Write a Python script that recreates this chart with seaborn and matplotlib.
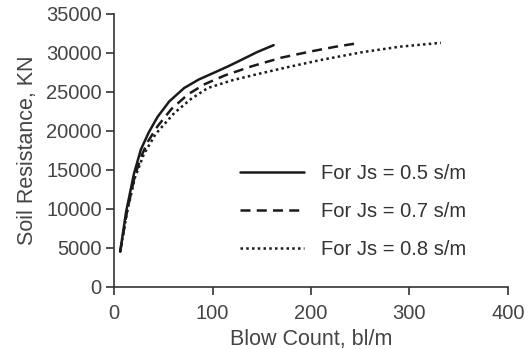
import pandas as pd
import matplotlib
matplotlib.use("Agg")
import matplotlib.pyplot as plt
import seaborn as sns

# data
blow_05 = [6, 12, 20, 27, 35, 44, 56, 71, 86, 102, 116, 129, 145, 162]
res_05 = [4500, 9600, 14500, 17600, 19800, 21800, 23800, 25500, 26600, 27500, 28300, 29100, 30100, 31000]

blow_07 = [6, 13, 21, 28, 34, 44, 58, 75, 92, 112, 140, 170, 200, 225, 245]
res_07 = [4500, 9700, 14300, 16900, 18600, 20600, 22800, 24700, 26000, 27100, 28300, 29400, 30200, 30800, 31200]

blow_08 = [6, 13, 21, 30, 42, 61, 78, 95, 120, 146, 177, 210, 252, 290, 332]
res_08 = [4500, 9600, 14000, 17000, 19600, 22300, 24100, 25500, 26500, 27300, 28200, 29100, 30100, 30800, 31300]

labels = ["For Js = 0.5 s/m", "For Js = 0.7 s/m", "For Js = 0.8 s/m"]

df = pd.concat([
    pd.DataFrame({"Blow": blow_05, "Res": res_05, "Js": labels[0]}),
    pd.DataFrame({"Blow": blow_07, "Res": res_07, "Js": labels[1]}),
    pd.DataFrame({"Blow": blow_08, "Res": res_08, "Js": labels[2]}),
])

sns.set_style("ticks")
plt.rcParams["font.family"] = ["Liberation Sans", "DejaVu Sans"]

fig = plt.figure(figsize=(5.29, 3.49), dpi=100)
ax = fig.add_axes([0.216, 0.178, 0.744, 0.782])

sns.lineplot(data=df, x="Blow", y="Res", style="Js", color="#1a1a1a",
             dashes={labels[0]: "", labels[1]: (4, 2.5), labels[2]: (1, 1.3)},
             estimator=None, sort=False, linewidth=1.8, ax=ax)

ax.set_xlim(0, 400)
ax.set_ylim(0, 35000)
ax.set_xticks([0, 100, 200, 300, 400])
ax.set_yticks(range(0, 35001, 5000))
sns.despine(ax=ax)
for s in ["left", "bottom"]:
    ax.spines[s].set_color("#333333")
    ax.spines[s].set_linewidth(1.2)
ax.tick_params(axis="both", colors="#333333", labelcolor="#444444", labelsize=14.5,
               length=6, width=1.2, direction="out")
ax.tick_params(axis="y", pad=3)
ax.tick_params(axis="x", pad=6)

ax.set_xlabel("Blow Count, bl/m", fontsize=15.5, color="#444444", labelpad=5)
ax.set_ylabel("Soil Resistance, KN", fontsize=15.5, color="#444444", labelpad=6)

ax.legend(frameon=False, loc="upper left", bbox_to_anchor=(240 / 529, 1 - 164 / 349),
          bbox_transform=fig.transFigure, borderaxespad=0, borderpad=0,
          handlelength=3.2, handletextpad=0.8, labelspacing=0.95,
          fontsize=14.5, labelcolor="#333333")

fig.savefig("out.png", dpi=100)
